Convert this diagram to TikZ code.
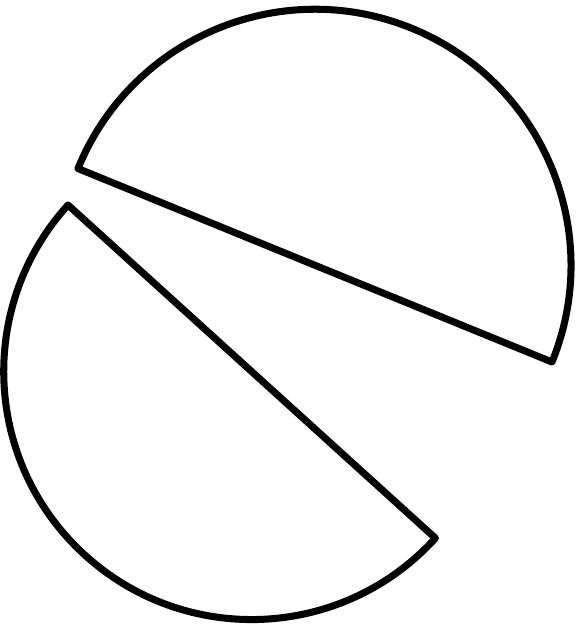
\documentclass[tikz,border=0pt]{standalone}
\usepackage{xcolor}
\usepackage{tikz}
\begin{document}
\begin{tikzpicture}[x=0.01cm,y=0.01cm,half/.style={black,line width=2pt,line join=round}]
\useasboundingbox (0,0) rectangle (577,626);
\draw[half] (552,264) arc[start angle=-22.2,end angle=157.8,radius=256] -- cycle;
\draw[half] (68,421) arc[start angle=137.8,end angle=317.8,radius=248] -- cycle;
\end{tikzpicture}
\end{document}
